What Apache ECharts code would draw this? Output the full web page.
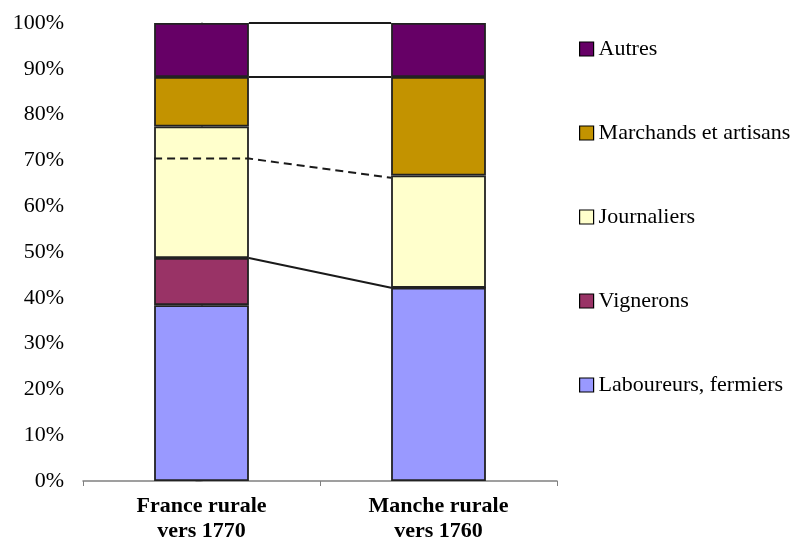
<!DOCTYPE html>
<html>
<head>
<meta charset="utf-8">
<script src="https://cdn.jsdelivr.net/npm/echarts@6/dist/echarts.min.js"></script>
<style>html,body{margin:0;padding:0;background:#fff}#c{width:791px;height:544px}</style>
</head>
<body>
<div id="c"></div>
<script>
const categories = ['France rurale\nvers 1770', 'Manche rurale\nvers 1760'];
const seriesNames = ['Laboureurs, fermiers', 'Vignerons', 'Journaliers', 'Marchands et artisans', 'Autres'];
const laboureurs = [38.4, 42.2];
const vignerons = [10.3, 0];
const journaliers = [28.7, 24.5];
const marchands = [10.8, 21.5];
const autres = [11.8, 11.8];
const dashedLine = [70.4, 66.2];
const colors = ['#9999FF', '#993366', '#FFFFCC', '#C39300', '#660066'];

const values = [laboureurs, vignerons, journaliers, marchands, autres];
const cum = values.map((_, k) => categories.map((_, i) => values.slice(0, k + 1).reduce((s, a) => s + a[i], 0)));

const font = '"Liberation Serif", "Times New Roman", serif';
const half = 0.2; // half bar width in category units (barWidth 40%)

const bars = seriesNames.map((n, k) => ({
  name: n, type: 'bar', stack: 'all', barWidth: '40%',
  data: values[k],
  itemStyle: { color: colors[k], borderColor: '#222', borderWidth: 1.8 },
  emphasis: { disabled: true }
}));

function connector(k) {
  return {
    type: 'line', xAxisIndex: 1, symbol: 'none', silent: true, z: 5,
    lineStyle: { color: '#1a1a1a', width: 2 },
    data: [[0 + half, cum[k][0]], [1 - half, cum[k][1]]]
  };
}

const option = {
  animation: false,
  textStyle: { fontFamily: font },
  grid: { left: 83, top: 23, width: 474, bottom: 62, containLabel: false },
  legend: {
    orient: 'vertical', left: 574, top: 33, itemGap: 62,
    itemWidth: 14, itemHeight: 14, icon: 'rect',
    data: seriesNames.slice().reverse(),
    itemStyle: { borderColor: '#000', borderWidth: 1.2 },
    textStyle: { fontFamily: font, fontSize: 22, color: '#000' },
    selectedMode: false
  },
  xAxis: [{
    type: 'category', data: categories,
    axisLine: { lineStyle: { color: '#808080', width: 1.5 } },
    axisTick: { show: true, interval: 0, length: 5, lineStyle: { color: '#808080' } },
    axisLabel: { fontFamily: font, fontSize: 22, fontWeight: 'bold', color: '#000', lineHeight: 25, margin: 13, interval: 0 }
  }, {
    type: 'value', min: -0.5, max: 1.5, show: false
  }],
  yAxis: {
    type: 'value', min: 0, max: 100, interval: 10,
    axisLine: { show: true, lineStyle: { color: '#808080', width: 1.5 } },
    axisTick: { show: true, length: 6, lineStyle: { color: '#808080' } },
    splitLine: { show: false },
    axisLabel: { formatter: '{value}%', fontFamily: font, fontSize: 22, color: '#000', margin: 19 }
  },
  series: bars.concat([
    connector(1), connector(3), connector(4),
    {
      type: 'line', xAxisIndex: 1, symbol: 'none', silent: true, z: 5,
      lineStyle: { color: '#1a1a1a', width: 2, type: [8, 5] },
      data: [[0 - half, dashedLine[0]], [0 + half, dashedLine[0]], [1 - half, dashedLine[1]]]
    }
  ])
};
echarts.init(document.getElementById('c')).setOption(option);
</script>
</body>
</html>
